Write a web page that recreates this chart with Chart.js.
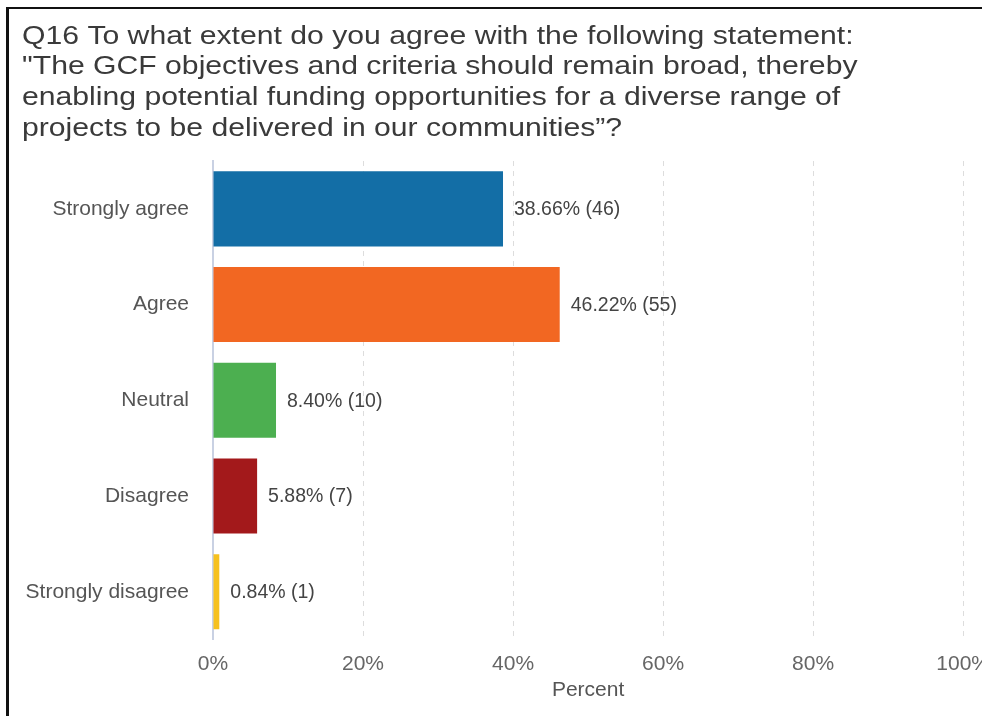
<!DOCTYPE html>
<html>
<head>
<meta charset="utf-8">
<title>Q16 survey responses</title>
<script src="https://cdn.jsdelivr.net/npm/chart.js@4/dist/chart.umd.min.js"></script>
<style>
  html, body { margin: 0; padding: 0; background: #fff; overflow: hidden; }
  body { width: 982px; height: 716px; position: relative; }
  .frame {
    position: absolute; left: 6px; top: 7px; width: 1000px; height: 760px;
    border-top: 2px solid #111; border-left: 3px solid #111;
  }
  #chart { position: absolute; left: 0; top: 0; }
</style>
</head>
<body>
<div class="frame"></div>
<canvas id="chart" width="1002" height="716"></canvas>
<script>
"use strict";

const titleLines = [
  'Q16 To what extent do you agree with the following statement:',
  '"The GCF objectives and criteria should remain broad, thereby',
  'enabling potential funding opportunities for a diverse range of',
  'projects to be delivered in our communities\u201d?'
];
const categories = ['Strongly agree', 'Agree', 'Neutral', 'Disagree', 'Strongly disagree'];
const percents   = [38.66, 46.22, 8.40, 5.88, 0.84];
const counts     = [46, 55, 10, 7, 1];
const barColors  = ['#136ea6', '#f26722', '#4caf50', '#a3191b', '#f6c11e'];
const xTicks     = [0, 20, 40, 60, 80, 100];

const FONT = '"Liberation Sans", Arial, Helvetica, sans-serif';

// question text above the plot, a little wider than the font's natural width
const questionTitle = {
  id: 'questionTitle',
  afterDraw(chart) {
    const ctx = chart.ctx;
    ctx.save();
    ctx.font = '26px ' + FONT;
    ctx.fillStyle = '#3a3a3a';
    ctx.textAlign = 'left';
    ctx.textBaseline = 'alphabetic';
    titleLines.forEach((line, i) => {
      ctx.save();
      ctx.translate(22, 43.5 + i * 30.7);
      ctx.scale(1.16, 1);
      ctx.fillText(line, 0, 0);
      ctx.restore();
    });
    ctx.restore();
  }
};

// writes "38.66% (46)" just past the end of each bar
const barValueLabels = {
  id: 'barValueLabels',
  afterDatasetsDraw(chart) {
    const ctx = chart.ctx;
    const meta = chart.getDatasetMeta(0);
    ctx.save();
    ctx.font = '19.5px ' + FONT;
    ctx.fillStyle = '#444';
    ctx.textAlign = 'left';
    ctx.textBaseline = 'middle';
    meta.data.forEach((bar, i) => {
      const txt = percents[i].toFixed(2) + '% (' + counts[i] + ')';
      ctx.fillText(txt, bar.x + 11, bar.y + 1);
    });
    ctx.restore();
  }
};

new Chart(document.getElementById('chart'), {
  type: 'bar',
  data: {
    labels: categories,
    datasets: [{
      data: percents,
      backgroundColor: barColors,
      borderWidth: 0,
      categoryPercentage: 0.8,
      barPercentage: 0.98
    }]
  },
  options: {
    indexAxis: 'y',
    responsive: false,
    animation: false,
    layout: { padding: { left: 22, top: 161, right: 0, bottom: 0 } },
    plugins: {
      legend: { display: false },
      tooltip: { enabled: false },
      title: { display: false }
    },
    scales: {
      x: {
        min: 0,
        max: 100,
        afterBuildTicks(scale) {
          scale.ticks = xTicks.map(v => ({ value: v }));
        },
        grid: { color: '#dddddd', drawTicks: false },
        border: { display: false, dash: [5, 5] },
        ticks: {
          color: '#666',
          padding: 12,
          font: { family: FONT, size: 21 },
          callback: v => v + '%'
        },
        title: {
          display: true,
          text: 'Percent',
          color: '#555',
          font: { family: FONT, size: 21 },
          padding: { top: -11, bottom: 13 }
        }
      },
      y: {
        afterFit(scale) { scale.width = 213 - 22; },
        grid: { color: 'transparent', drawTicks: false },
        border: { display: true, color: '#c9d1e3', width: 2 },
        ticks: {
          color: '#555',
          padding: 24,
          font: { family: FONT, size: 21 }
        }
      }
    }
  },
  plugins: [barValueLabels, questionTitle]
});
</script>
</body>
</html>
